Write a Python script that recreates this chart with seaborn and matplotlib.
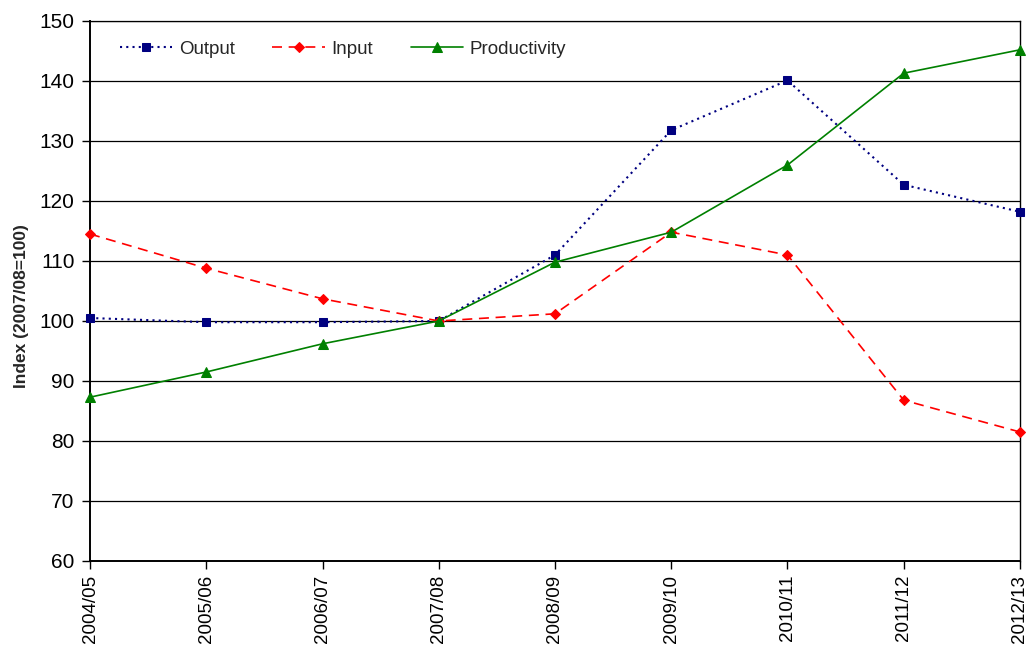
import matplotlib
matplotlib.use("Agg")
import matplotlib.pyplot as plt
import seaborn as sns
import pandas as pd

years = ["2004/05", "2005/06", "2006/07", "2007/08", "2008/09",
         "2009/10", "2010/11", "2011/12", "2012/13"]
output_idx = [100.5, 99.8, 99.8, 100.0, 111.0, 131.8, 140.1, 122.7, 118.2]
input_idx = [114.5, 108.8, 103.7, 100.0, 101.2, 114.8, 111.0, 86.8, 81.5]
productivity_idx = [87.3, 91.5, 96.2, 100.0, 109.8, 114.8, 126.0, 141.3, 145.2]

sns.set_theme(style="white")
plt.rcParams["font.family"] = ["Liberation Sans", "DejaVu Sans"]

df = pd.DataFrame({
    "pos": list(range(len(years))) * 3,
    "value": output_idx + input_idx + productivity_idx,
    "series": ["Output"] * len(years) + ["Input"] * len(years) + ["Productivity"] * len(years),
})

fig = plt.figure(figsize=(10.29, 6.48), dpi=100)
ax = fig.add_axes([90 / 1029, 1 - 561 / 648, 930 / 1029, 540 / 648])

styles = {
    "Output": dict(color="#000080", ls=(0, (1, 2.0)), marker="s", ms=6, lw=1.5),
    "Input": dict(color="#ff0000", ls=(0, (6, 4)), marker="D", ms=5, lw=1.2),
    "Productivity": dict(color="#008000", ls="-", marker="^", ms=7, lw=1.2),
}

for name, st in styles.items():
    sub = df[df["series"] == name]
    sns.lineplot(data=sub, x="pos", y="value", ax=ax, color=st["color"],
                 linestyle=st["ls"], linewidth=st["lw"], marker=st["marker"],
                 markersize=st["ms"], markeredgecolor=st["color"],
                 markerfacecolor=st["color"], label=name, clip_on=False,
                 zorder=3)

ax.set_xlim(0, len(years) - 1)
ax.set_ylim(60, 150)
ax.set_yticks(range(60, 151, 10))
ax.set_xticks(range(len(years)))
ax.set_xticklabels(years, rotation=90, fontsize=13.5)
ax.tick_params(axis="y", labelsize=15, length=6, width=1, direction="out",
               left=True, colors="black", pad=5)
ax.tick_params(axis="x", length=6, width=1, direction="out", bottom=True,
               colors="black", pad=4)
ax.grid(axis="y", color="black", linewidth=0.9)
ax.set_axisbelow(True)

for side in ["left", "bottom"]:
    ax.spines[side].set_visible(True)
    ax.spines[side].set_color("black")
    ax.spines[side].set_linewidth(1.4)
ax.spines["right"].set_visible(True)
ax.spines["right"].set_color("black")
ax.spines["right"].set_linewidth(1.0)
ax.spines["top"].set_visible(True)
ax.spines["top"].set_color("black")
ax.spines["top"].set_linewidth(0.9)

ax.set_xlabel("")
ax.set_ylabel("Index (2007/08=100)", fontsize=12.5, fontweight="bold")
ax.yaxis.set_label_coords(-0.066, 0.472)

leg = ax.legend(loc="upper left", ncol=3, frameon=False, fontsize=13.5,
                bbox_to_anchor=(0.014, 0.995), handlelength=2.8,
                columnspacing=2.0, handletextpad=0.35)

fig.savefig("out.png", dpi=100, facecolor="white")
